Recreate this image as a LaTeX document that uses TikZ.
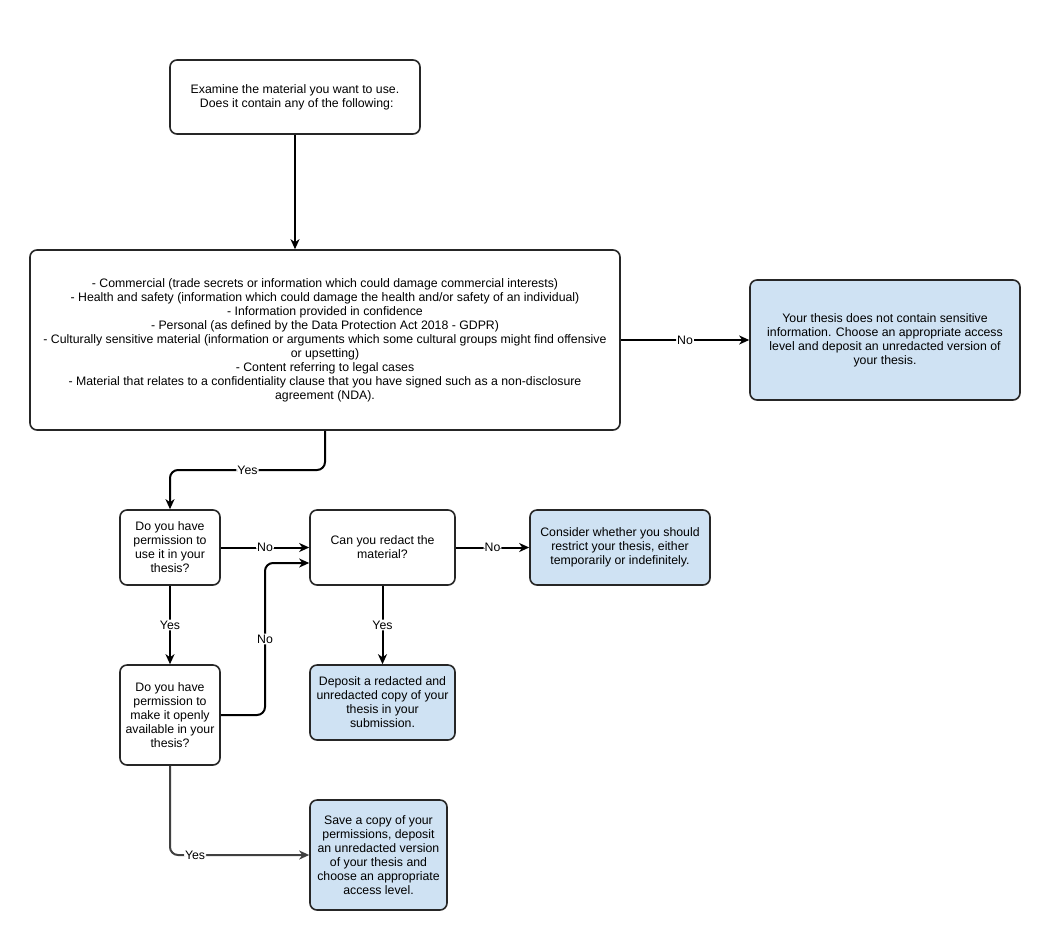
\documentclass[tikz,border=0pt]{standalone}
\usepackage{fontspec}
\setmainfont{Liberation Sans}
\usetikzlibrary{arrows.meta}
\definecolor{bluefill}{HTML}{CFE2F3}
\definecolor{edgegray}{HTML}{404040}
\begin{document}
\begin{tikzpicture}[x=1pt,y=-1pt,
  every node/.style={font=\fontsize{12.3}{14}\selectfont},
  box/.style={draw=black!85, line width=1.6pt, rounded corners=7pt, fill=white, align=center, inner sep=2pt},
  bluebox/.style={box, fill=bluefill},
  conn/.style={line width=2pt, draw=black, -{Stealth[length=10pt,width=9pt,inset=3pt]}, rounded corners=8pt},
  lbl/.style={fill=white, inner sep=1pt}
]
\useasboundingbox (0,0) rectangle (1040,930);
\fill[white] (0,0) rectangle (1040,930);

\node[box, minimum width=250pt, minimum height=74pt] (top) at (295,97)
  {Examine the material you want to use.\\ \ Does it contain any of the following:};
\node[box, minimum width=590pt, minimum height=180pt] (big) at (325,340)
  {- Commercial (trade secrets or information which could damage commercial interests)\\
   - Health and safety (information which could damage the health and/or safety of an individual)\\
   - Information provided in confidence\\
   - Personal (as defined by the Data Protection Act 2018 - GDPR)\\
   - Culturally sensitive material (information or arguments which some cultural groups might find offensive\\
   or upsetting)\\
   - Content referring to legal cases\\
   - Material that relates to a confidentiality clause that you have signed such as a non-disclosure\\
   agreement (NDA).};
\node[bluebox, minimum width=270pt, minimum height=120pt] (right) at (885,340)
  {Your thesis does not contain sensitive\\information. Choose an appropriate access\\level and deposit an unredacted version of\\your thesis.};
\node[box, minimum width=100pt, minimum height=75pt] (q1) at (170,547.5)
  {Do you have\\permission to\\use it in your\\thesis?};
\node[box, minimum width=145pt, minimum height=75pt] (redact) at (382.5,547.5)
  {Can you redact the\\material?};
\node[bluebox, minimum width=180pt, minimum height=75pt] (consider) at (620,547.5)
  {Consider whether you should\\restrict your thesis, either\\temporarily or indefinitely.};
\node[box, minimum width=100pt, minimum height=100pt] (q2) at (170,715)
  {Do you have\\permission to\\make it openly\\available in your\\thesis?};
\node[bluebox, minimum width=145pt, minimum height=75pt] (dep) at (382.5,702.5)
  {Deposit a redacted and\\unredacted copy of your\\thesis in your\\submission.};
\node[bluebox, minimum width=137pt, minimum height=110pt] (save) at (378.5,855)
  {Save a copy of your\\permissions, deposit\\an unredacted version\\of your thesis and\\choose an appropriate\\access level.};

\coordinate (c1) at (325,470);
\coordinate (c2) at (170,470);
\coordinate (c3) at (265,715);
\coordinate (c4) at (265,563);
\coordinate (c5) at (170,855);

\draw[conn] (top.south) -- (top.south |- big.north);
\draw[conn] (big.east) -- node[lbl]{No} (right.west);
\draw[conn] (big.south) -- (c1) -- node[lbl]{Yes} (c2) -- (q1.north);
\draw[conn] (q1.east) -- node[lbl]{No} (redact.west);
\draw[conn] (q1.south) -- node[lbl]{Yes} (q2.north);
\draw[conn] (q2.east |- c3) -- (c3) -- node[lbl]{No} (c4) -- (redact.west |- c4);
\draw[conn] (redact.east) -- node[lbl]{No} (consider.west);
\draw[conn] (redact.south) -- node[lbl]{Yes} (dep.north);
\draw[conn, draw=edgegray] (q2.south) -- (c5) -- node[lbl, pos=0.18]{Yes} (save.west);
\end{tikzpicture}
\end{document}
